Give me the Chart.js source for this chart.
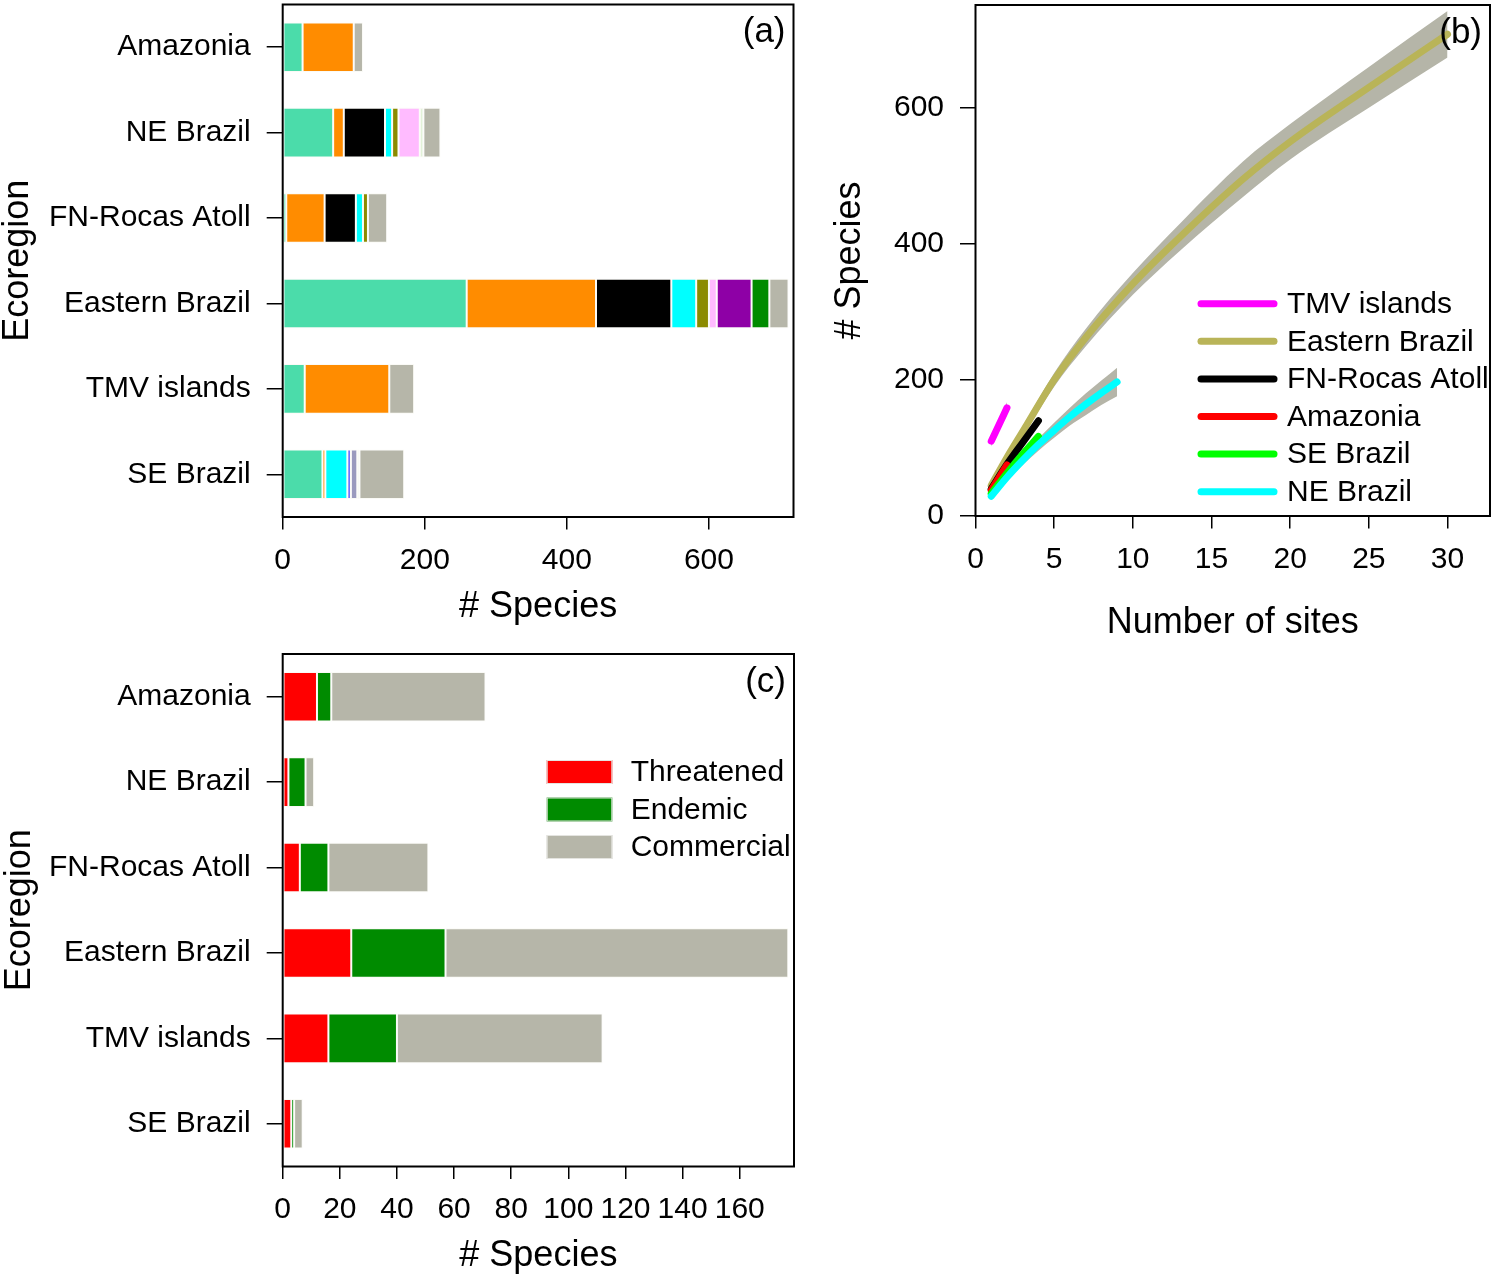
<!DOCTYPE html>
<html>
<head>
<meta charset="utf-8">
<script src="https://cdn.jsdelivr.net/npm/chart.js@4.4.1/dist/chart.umd.min.js"></script>
<style>
  body { margin: 0; background: #fff; width: 1492px; height: 1280px; overflow: hidden; }
  .panel { position: absolute; }
  #wrapA { left: 0; top: 0; width: 800px; height: 640px; }
  #wrapB { left: 820px; top: 0; width: 672px; height: 660px; }
  #wrapC { left: 0; top: 640px; width: 800px; height: 640px; }
</style>
</head>
<body>
<div class="panel" id="wrapA"><canvas id="chartA"></canvas></div>
<div class="panel" id="wrapB"><canvas id="chartB"></canvas></div>
<div class="panel" id="wrapC"><canvas id="chartC"></canvas></div>
<script>
// ---- data ----
const ecoregions = ['Amazonia', 'NE Brazil', 'FN-Rocas Atoll', 'Eastern Brazil', 'TMV islands', 'SE Brazil'];

// (a) species per group, stacked left to right
const groupTeal   = [28, 71, 5, 259, 31, 56];
const groupOrange = [72, 15, 54, 182, 119, 4];
const groupBlack  = [0, 58, 44, 106, 0, 0];
const groupCyan   = [0, 10, 10, 35, 0, 31];
const groupOlive  = [0, 9, 7, 18, 0, 0];
const groupPink   = [0, 30, 0, 11, 0, 0];
const groupPurple = [0, 0, 0, 49, 0, 0];
const groupGreen  = [0, 0, 0, 25, 0, 0];
const groupBlue   = [0, 0, 0, 0, 0, 5];
const groupSlate  = [0, 0, 0, 0, 0, 9];
const groupPale   = [0, 5, 0, 0, 0, 3];
const groupGrey   = [13, 24, 27, 27, 35, 63];

// (b) accumulation curves
const curveNames = ['TMV islands', 'Eastern Brazil', 'FN-Rocas Atoll', 'Amazonia', 'SE Brazil', 'NE Brazil'];
const curveColors = ['#ff00ff', '#b9b458', '#000000', '#ff0000', '#00ff00', '#00ffff'];

const sitesTMV = [1, 2];
const richTMV  = [110, 159];
const lowTMV   = [102, 151];
const uppTMV   = [118, 167];

const sitesEast = [1, 2, 3, 5, 7, 10, 13, 17, 20, 25, 30];
const richEast  = [45, 86, 124, 200, 262, 341, 410, 495, 550, 630, 708];
const lowEast   = [42, 81, 117, 190, 249, 325, 390, 469, 524, 600, 674];
const uppEast   = [48, 91, 131, 210, 275, 357, 430, 521, 576, 660, 742];

const sitesFN = [1, 2, 3, 4];
const richFN  = [40, 76, 108, 140];

const sitesAmaz = [1, 2];
const richAmaz  = [38, 75];

const sitesSE = [1, 2, 3, 4];
const richSE  = [33, 63, 91, 117];

const sitesNE = [1, 2, 3, 4, 5, 6, 7, 8, 9];
const richNE  = [29, 57, 82, 105, 126, 146, 164, 181, 197];
const lowNE   = [26, 52, 75, 96, 115, 133, 148, 163, 176];
const uppNE   = [32, 62, 89, 114, 137, 159, 180, 199, 218];

// (c) species of concern
const statusNames = ['Threatened', 'Endemic', 'Commercial'];
const threatened = [12, 2, 6, 24, 16, 3];
const endemic    = [5, 6, 10, 33, 24, 1];
const commercial = [54, 3, 35, 120, 72, 3];

const barTicksA = { min: 0, max: 719, step: 200 };
const barTicksC = { min: 0, max: 179, step: 20 };
const curveTicksX = { min: 0, max: 32.7, step: 5 };
const curveTicksY = { min: 0, max: 751, step: 200 };

// ---- helpers ----
const FONT = '"Liberation Sans", Arial, Helvetica, sans-serif';
Chart.defaults.font.family = FONT;
Chart.defaults.font.size = 30;
Chart.defaults.color = '#000';
const BAND = '#b5b5a8';

const points = (xs, ys) => xs.map((x, i) => ({ x: x, y: ys[i] }));

// fixed axis width, and no extra room reserved for the end labels
function fixWidth(w) {
    return s => { s.width = w; s.paddingTop = 0; s.paddingBottom = 0; };
}
function fixHeight(h) {
    return s => { s.height = h; s.paddingLeft = 0; s.paddingRight = 0; };
}

// box around the plot plus the panel tag
const framePlugin = {
    id: 'frame',
    afterDraw(chart, args, opts) {
        const { ctx, chartArea: a } = chart;
        ctx.save();
        ctx.strokeStyle = '#000';
        ctx.lineWidth = 2;
        ctx.strokeRect(a.left, a.top, a.right - a.left, a.bottom - a.top);
        ctx.fillStyle = '#000';
        ctx.font = '35px ' + FONT;
        ctx.textAlign = 'right';
        ctx.textBaseline = 'middle';
        ctx.fillText(opts.tag, a.right - 8, a.top + 28);
        ctx.restore();
    }
};

// hand-drawn legends (line swatches for b, boxes for c)
const swatchLegend = {
    id: 'swatchLegend',
    afterDraw(chart, args, opts) {
        if (!opts.items) return;
        const { ctx, chartArea: a } = chart;
        ctx.save();
        ctx.font = '30px ' + FONT;
        ctx.textBaseline = 'middle';
        ctx.textAlign = 'left';
        opts.items.forEach((it, i) => {
            const y = a.top + opts.dy + i * opts.rowGap;
            const x0 = a.left + opts.dx;
            if (opts.kind === 'line') {
                ctx.strokeStyle = it.color;
                ctx.lineWidth = 7;
                ctx.lineCap = 'round';
                ctx.beginPath();
                ctx.moveTo(x0, y);
                ctx.lineTo(x0 + opts.swatch, y);
                ctx.stroke();
            } else {
                ctx.fillStyle = it.color;
                ctx.fillRect(x0, y - 12, opts.swatch, 24);
                ctx.strokeStyle = '#e4e4e0';
                ctx.lineWidth = 1;
                ctx.strokeRect(x0 + 0.5, y - 11.5, opts.swatch - 1, 23);
            }
            ctx.fillStyle = '#000';
            ctx.fillText(it.label, x0 + opts.textGap, y + 1);
        });
        ctx.restore();
    }
};

function barDataset(label, data, color) {
    return {
        label: label,
        data: data,
        backgroundColor: color,
        borderColor: 'rgba(250,250,246,0.95)',
        borderWidth: 1,
        borderSkipped: false,
        barPercentage: 0.58,
        categoryPercentage: 1.0
    };
}

function stackedBarOptions(ticks, padding, xHeight, yTitlePad, xTitlePad, tag, legend) {
    return {
        indexAxis: 'y',
        responsive: true,
        maintainAspectRatio: false,
        animation: false,
        events: [],
        layout: { padding: padding },
        scales: {
            y: {
                type: 'category',
                stacked: true,
                offset: true,
                grid: { offset: false, drawOnChartArea: false, drawTicks: true, tickLength: 16, color: '#000', lineWidth: 1.5 },
                border: { display: false },
                ticks: { padding: 16, font: { size: 30 }, color: '#000', autoSkip: false },
                title: { display: true, text: 'Ecoregion', font: { size: 36, lineHeight: 1 }, padding: { top: yTitlePad, bottom: 0 } },
                afterFit: fixWidth(282.7)
            },
            x: {
                type: 'linear',
                stacked: true,
                min: ticks.min,
                max: ticks.max,
                grid: { drawOnChartArea: false, drawTicks: true, tickLength: 12.5, color: '#000', lineWidth: 1.5 },
                border: { display: false },
                ticks: { stepSize: ticks.step, includeBounds: false, padding: 13, maxRotation: 0, autoSkip: false, font: { size: 30 }, color: '#000' },
                title: { display: true, text: '# Species', font: { size: 36, lineHeight: 1 }, padding: { top: 0, bottom: xTitlePad } },
                afterFit: fixHeight(xHeight)
            }
        },
        plugins: {
            legend: { display: false },
            tooltip: { enabled: false },
            frame: { tag: tag },
            swatchLegend: legend || {}
        }
    };
}

// ---- (a) ----
new Chart(document.getElementById('chartA'), {
    type: 'bar',
    data: {
        labels: ecoregions,
        datasets: [
            barDataset('teal', groupTeal, '#4bdcaa'),
            barDataset('orange', groupOrange, '#ff8c00'),
            barDataset('black', groupBlack, '#000000'),
            barDataset('cyan', groupCyan, '#00ffff'),
            barDataset('olive', groupOlive, '#8b8b00'),
            barDataset('pink', groupPink, '#ffbbff'),
            barDataset('purple', groupPurple, '#8e00a6'),
            barDataset('green', groupGreen, '#008b00'),
            barDataset('blue', groupBlue, '#6464ff'),
            barDataset('slate', groupSlate, '#9a9abe'),
            barDataset('pale', groupPale, '#e2f2d8'),
            barDataset('grey', groupGrey, '#b6b6a9')
        ]
    },
    options: stackedBarOptions(barTicksA, { left: 0, top: 4.5, right: 6.5, bottom: 0 }, 123, 0, 15, '(a)'),
    plugins: [framePlugin, swatchLegend]
});

// ---- (b) ----
function curveLine(idx, xs, ys, order) {
    return {
        label: curveNames[idx],
        data: points(xs, ys),
        borderColor: curveColors[idx],
        borderWidth: 7,
        borderCapStyle: 'round',
        borderJoinStyle: 'round',
        pointRadius: 0,
        cubicInterpolationMode: 'monotone',
        fill: false,
        order: order
    };
}
function bandPair(xs, lo, hi) {
    const base = {
        borderWidth: 0,
        borderColor: 'rgba(0,0,0,0)',
        pointRadius: 0,
        cubicInterpolationMode: 'monotone',
        order: 20
    };
    return [
        Object.assign({}, base, { label: 'upper', data: points(xs, hi), fill: '+1', backgroundColor: BAND }),
        Object.assign({}, base, { label: 'lower', data: points(xs, lo), fill: false })
    ];
}

new Chart(document.getElementById('chartB'), {
    type: 'line',
    data: {
        datasets: [
            ...bandPair(sitesEast, lowEast, uppEast),
            ...bandPair(sitesNE, lowNE, uppNE),
            ...bandPair(sitesTMV, lowTMV, uppTMV),
            curveLine(0, sitesTMV, richTMV, 6),
            curveLine(1, sitesEast, richEast, 5),
            curveLine(2, sitesFN, richFN, 4),
            curveLine(3, sitesAmaz, richAmaz, 3),
            curveLine(4, sitesSE, richSE, 2),
            curveLine(5, sitesNE, richNE, 1)
        ]
    },
    options: {
        responsive: true,
        maintainAspectRatio: false,
        animation: false,
        events: [],
        layout: { padding: { left: 0, top: 5, right: 2, bottom: 0 } },
        scales: {
            x: {
                type: 'linear',
                min: curveTicksX.min,
                max: curveTicksX.max,
                grid: { drawOnChartArea: false, drawTicks: true, tickLength: 12.5, color: '#000', lineWidth: 1.5 },
                border: { display: false },
                ticks: { stepSize: curveTicksX.step, includeBounds: false, padding: 13, maxRotation: 0, autoSkip: false, font: { size: 30 } },
                title: { display: true, text: 'Number of sites', font: { size: 36, lineHeight: 1 }, padding: { top: 0, bottom: 19 } },
                afterFit: fixHeight(144)
            },
            y: {
                type: 'linear',
                min: curveTicksY.min,
                max: curveTicksY.max,
                grid: { drawOnChartArea: false, drawTicks: true, tickLength: 15.5, color: '#000', lineWidth: 1.5 },
                border: { display: false },
                ticks: { stepSize: curveTicksY.step, includeBounds: false, padding: 16, font: { size: 30 } },
                title: { display: true, text: '# Species', font: { size: 36, lineHeight: 1 }, padding: { top: 12, bottom: 0 } },
                afterFit: fixWidth(155.5)
            }
        },
        plugins: {
            legend: { display: false },
            tooltip: { enabled: false },
            frame: { tag: '(b)' },
            swatchLegend: {
                kind: 'line',
                items: curveNames.map((n, i) => ({ label: n, color: curveColors[i] })),
                dx: 225.5, dy: 298.7, rowGap: 37.6, swatch: 73, textGap: 86
            }
        }
    },
    plugins: [framePlugin, swatchLegend]
});

// ---- (c) ----
const statusColors = ['#ff0000', '#008b00', '#b6b6a9'];
new Chart(document.getElementById('chartC'), {
    type: 'bar',
    data: {
        labels: ecoregions,
        datasets: [
            barDataset(statusNames[0], threatened, statusColors[0]),
            barDataset(statusNames[1], endemic, statusColors[1]),
            barDataset(statusNames[2], commercial, statusColors[2])
        ]
    },
    options: stackedBarOptions(barTicksC, { left: 0, top: 14, right: 6, bottom: 0 }, 113.5, 2, 6, '(c)', {
        kind: 'box',
        items: statusNames.map((n, i) => ({ label: n, color: statusColors[i] })),
        dx: 264, dy: 118, rowGap: 37.5, swatch: 65.6, textGap: 84
    }),
    plugins: [framePlugin, swatchLegend]
});
</script>
</body>
</html>
